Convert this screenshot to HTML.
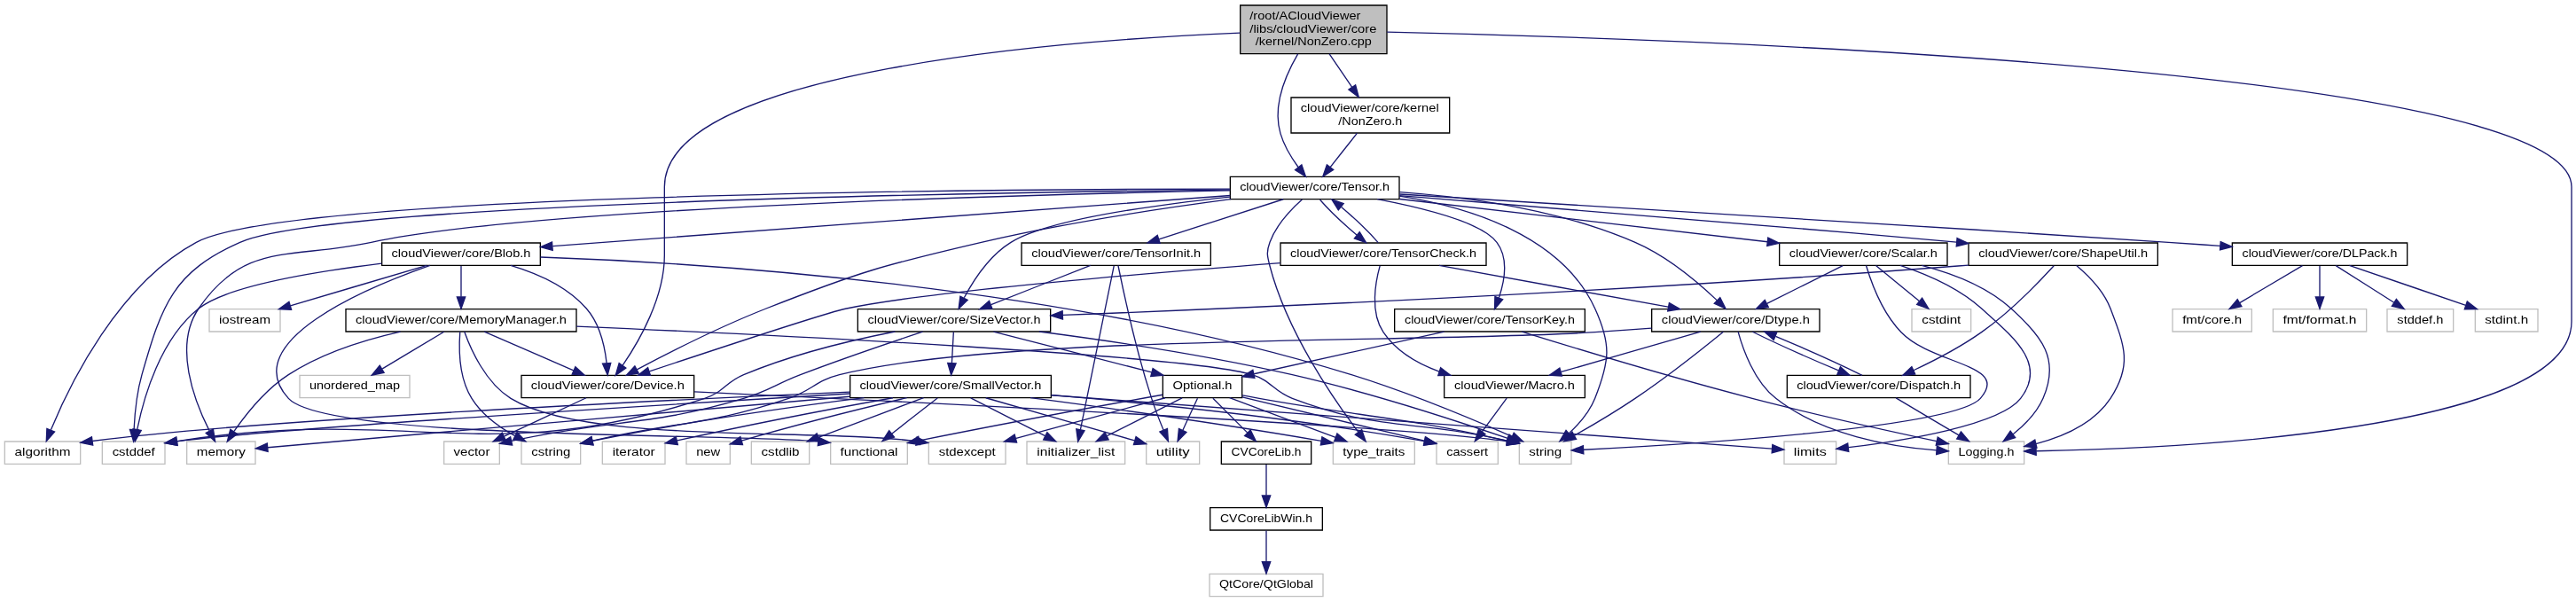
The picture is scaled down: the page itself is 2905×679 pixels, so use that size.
<!DOCTYPE html>
<html><head><meta charset="utf-8"><title>/root/ACloudViewer/libs/cloudViewer/core/kernel/NonZero.cpp</title>
<style>html,body{margin:0;padding:0;background:#fff}svg{display:block;will-change:transform}text{font-family:"Liberation Sans",sans-serif;fill:#000}</style></head><body>
<svg width="2905" height="679" viewBox="0 0 2178.75 509.25">
<rect x="0" y="0" width="2178.75" height="509.25" fill="#fff"/>
<g transform="translate(4 505)" stroke-width="1">
<polygon fill="#bfbfbf" stroke="#000" points="1045,-459.5 1045,-500.5 1169,-500.5 1169,-459.5 1045,-459.5"/>
<text x="1053" y="-488.5" font-size="10.2" textLength="93.75" lengthAdjust="spacingAndGlyphs">/root/ACloudViewer</text>
<text x="1053" y="-477.5" font-size="10.2" textLength="107.25" lengthAdjust="spacingAndGlyphs">/libs/cloudViewer/core</text>
<text x="1057.88" y="-466.5" font-size="10.2" textLength="98.25" lengthAdjust="spacingAndGlyphs">/kernel/NonZero.cpp</text>
<polygon fill="#fff" stroke="#000" points="1088,-392.5 1088,-422.5 1222,-422.5 1222,-392.5 1088,-392.5"/>
<text x="1096" y="-410.5" font-size="10.2" textLength="117" lengthAdjust="spacingAndGlyphs">cloudViewer/core/kernel</text>
<text x="1128" y="-399.5" font-size="10.2" textLength="54" lengthAdjust="spacingAndGlyphs">/NonZero.h</text>
<path fill="none" stroke="#191970" d="M1120.37,-459.36C1126.28,-450.68 1133.26,-440.42 1139.41,-431.4"/>
<polygon fill="#191970" stroke="#191970" points="1142.47,-433.13 1145.2,-422.89 1136.68,-429.19 1142.47,-433.13"/>
<polygon fill="#fff" stroke="#000" points="1036.5,-336.5 1036.5,-355.5 1179.5,-355.5 1179.5,-336.5 1036.5,-336.5"/>
<text x="1044.62" y="-343.5" font-size="10.2" textLength="126.75" lengthAdjust="spacingAndGlyphs">cloudViewer/core/Tensor.h</text>
<path fill="none" stroke="#191970" d="M1093.72,-459.39C1083.49,-441.82 1072.15,-415.29 1079,-392 1082.01,-381.76 1088.15,-371.66 1094.01,-363.63"/>
<polygon fill="#191970" stroke="#191970" points="1096.93,-365.58 1100.33,-355.54 1091.41,-361.27 1096.93,-365.58"/>
<polygon fill="#fff" stroke="#000" points="437,-168.5 437,-187.5 583,-187.5 583,-168.5 437,-168.5"/>
<text x="445.12" y="-175.5" font-size="10.2" textLength="129.75" lengthAdjust="spacingAndGlyphs">cloudViewer/core/Device.h</text>
<path fill="none" stroke="#191970" d="M1044.82,-477.11C901.09,-471.05 558,-446.19 558,-347 558,-347 558,-347 558,-289 558,-253.58 536.84,-216.71 522.62,-195.92"/>
<polygon fill="#191970" stroke="#191970" points="525.32,-193.68 516.67,-187.56 519.62,-197.74 525.32,-193.68"/>
<polygon fill="#fff" stroke="#bfbfbf" points="1644,-112.5 1644,-131.5 1708,-131.5 1708,-112.5 1644,-112.5"/>
<text x="1652.38" y="-119.5" font-size="10.2" textLength="47.25" lengthAdjust="spacingAndGlyphs">Logging.h</text>
<path fill="none" stroke="#191970" d="M1169.19,-477.87C1396.77,-472.92 2171,-448.62 2171,-347 2171,-347 2171,-347 2171,-233 2171,-140.6 1838.18,-125.77 1718.35,-123.43"/>
<polygon fill="#191970" stroke="#191970" points="1718.16,-119.92 1708.1,-123.25 1718.03,-126.92 1718.16,-119.92"/>
<path fill="none" stroke="#191970" d="M1143.86,-392.4C1137.03,-383.75 1128.26,-372.64 1121.09,-363.58"/>
<polygon fill="#191970" stroke="#191970" points="1123.78,-361.34 1114.84,-355.66 1118.29,-365.67 1123.78,-361.34"/>
<polygon fill="#fff" stroke="#bfbfbf" points="0,-112.5 0,-131.5 64,-131.5 64,-112.5 0,-112.5"/>
<text x="8.38" y="-119.5" font-size="10.2" textLength="47.25" lengthAdjust="spacingAndGlyphs">algorithm</text>
<path fill="none" stroke="#191970" d="M1036.2,-345.12C828.71,-344.97 238.25,-340.91 162,-300 95.95,-264.56 54.68,-179.17 39.08,-141.45"/>
<polygon fill="#191970" stroke="#191970" points="42.17,-139.75 35.21,-131.76 35.67,-142.35 42.17,-139.75"/>
<polygon fill="#fff" stroke="#bfbfbf" points="82.5,-112.5 82.5,-131.5 135.5,-131.5 135.5,-112.5 82.5,-112.5"/>
<text x="91" y="-119.5" font-size="10.2" textLength="36" lengthAdjust="spacingAndGlyphs">cstddef</text>
<path fill="none" stroke="#191970" d="M1036.41,-344.41C835.25,-342.33 274.65,-333.55 199,-300 142.36,-274.88 133.02,-247.57 116,-188 111.66,-172.81 109.97,-154.91 109.33,-141.75"/>
<polygon fill="#191970" stroke="#191970" points="112.82,-141.47 109,-131.59 105.83,-141.7 112.82,-141.47"/>
<polygon fill="#fff" stroke="#bfbfbf" points="154,-112.5 154,-131.5 212,-131.5 212,-112.5 154,-112.5"/>
<text x="162.38" y="-119.5" font-size="10.2" textLength="41.25" lengthAdjust="spacingAndGlyphs">memory</text>
<path fill="none" stroke="#191970" d="M1036.32,-343.79C867.25,-340.49 447.46,-329.48 310,-300 242.05,-285.42 203.37,-301.27 164,-244 142.4,-212.58 160.38,-165.82 173.09,-140.62"/>
<polygon fill="#191970" stroke="#191970" points="176.32,-142 177.92,-131.52 170.14,-138.71 176.32,-142"/>
<polygon fill="#fff" stroke="#bfbfbf" points="1281,-112.5 1281,-131.5 1325,-131.5 1325,-112.5 1281,-112.5"/>
<text x="1289.12" y="-119.5" font-size="10.2" textLength="27.75" lengthAdjust="spacingAndGlyphs">string</text>
<path fill="none" stroke="#191970" d="M1179.54,-339.14C1238.43,-329.82 1316.67,-305.8 1345,-244 1359.08,-213.29 1357.39,-199.42 1345,-168 1340.49,-156.55 1331.53,-146.29 1323.05,-138.47"/>
<polygon fill="#191970" stroke="#191970" points="1325.09,-135.61 1315.21,-131.76 1320.53,-140.93 1325.09,-135.61"/>
<polygon fill="#fff" stroke="#bfbfbf" points="1123.5,-112.5 1123.5,-131.5 1192.5,-131.5 1192.5,-112.5 1123.5,-112.5"/>
<text x="1131.75" y="-119.5" font-size="10.2" textLength="52.5" lengthAdjust="spacingAndGlyphs">type_traits</text>
<path fill="none" stroke="#191970" d="M1097.29,-336.3C1088.06,-328.07 1075.41,-314.79 1070,-300 1066.95,-291.65 1067.75,-288.6 1070,-280 1084.61,-224.05 1124.09,-166.94 1144.84,-139.59"/>
<polygon fill="#191970" stroke="#191970" points="1147.75,-141.55 1151.1,-131.5 1142.21,-137.27 1147.75,-141.55"/>
<polygon fill="#fff" stroke="#000" points="319,-280.5 319,-299.5 453,-299.5 453,-280.5 319,-280.5"/>
<text x="327.12" y="-287.5" font-size="10.2" textLength="117.75" lengthAdjust="spacingAndGlyphs">cloudViewer/core/Blob.h</text>
<path fill="none" stroke="#191970" d="M1036.46,-339.65C900.15,-329.45 604.24,-307.32 463.45,-296.79"/>
<polygon fill="#191970" stroke="#191970" points="463.41,-293.28 453.17,-296.02 462.88,-300.26 463.41,-293.28"/>
<path fill="none" stroke="#191970" d="M1037.06,-336.48C979.71,-328.93 897.11,-316.53 826,-300 743.57,-280.84 722.75,-275 644,-244 604.79,-228.56 561.19,-206.43 534.69,-192.39"/>
<polygon fill="#191970" stroke="#191970" points="536.2,-189.24 525.73,-187.61 532.91,-195.41 536.2,-189.24"/>
<polygon fill="#fff" stroke="#000" points="1884,-280.5 1884,-299.5 2032,-299.5 2032,-280.5 1884,-280.5"/>
<text x="1892.38" y="-287.5" font-size="10.2" textLength="131.25" lengthAdjust="spacingAndGlyphs">cloudViewer/core/DLPack.h</text>
<path fill="none" stroke="#191970" d="M1179.75,-340.72C1309.52,-332.93 1591.9,-315.79 1830,-300 1844.18,-299.06 1859.24,-298.03 1873.86,-297.01"/>
<polygon fill="#191970" stroke="#191970" points="1874.16,-300.5 1883.89,-296.31 1873.67,-293.52 1874.16,-300.5"/>
<polygon fill="#fff" stroke="#000" points="1393,-224.5 1393,-243.5 1535,-243.5 1535,-224.5 1393,-224.5"/>
<text x="1401.38" y="-231.5" font-size="10.2" textLength="125.25" lengthAdjust="spacingAndGlyphs">cloudViewer/core/Dtype.h</text>
<path fill="none" stroke="#191970" d="M1179.71,-342.54C1235.94,-338.42 1315.1,-327.67 1379,-300 1406,-288.31 1432.13,-266.2 1448.13,-251.04"/>
<polygon fill="#191970" stroke="#191970" points="1450.8,-253.33 1455.52,-243.84 1445.92,-248.31 1450.8,-253.33"/>
<polygon fill="#fff" stroke="#000" points="1501,-280.5 1501,-299.5 1643,-299.5 1643,-280.5 1501,-280.5"/>
<text x="1509.38" y="-287.5" font-size="10.2" textLength="125.25" lengthAdjust="spacingAndGlyphs">cloudViewer/core/Scalar.h</text>
<path fill="none" stroke="#191970" d="M1179.74,-336.65C1263.87,-326.86 1403,-310.67 1490.96,-300.43"/>
<polygon fill="#191970" stroke="#191970" points="1491.37,-303.91 1500.9,-299.27 1490.56,-296.95 1491.37,-303.91"/>
<polygon fill="#fff" stroke="#000" points="1661,-280.5 1661,-299.5 1821,-299.5 1821,-280.5 1661,-280.5"/>
<text x="1669.38" y="-287.5" font-size="10.2" textLength="143.25" lengthAdjust="spacingAndGlyphs">cloudViewer/core/ShapeUtil.h</text>
<path fill="none" stroke="#191970" d="M1179.76,-339.48C1281.88,-331.54 1475.3,-316.15 1650.76,-300.1"/>
<polygon fill="#191970" stroke="#191970" points="1651.31,-303.56 1660.95,-299.16 1650.68,-296.59 1651.31,-303.56"/>
<polygon fill="#fff" stroke="#000" points="721.5,-224.5 721.5,-243.5 884.5,-243.5 884.5,-224.5 721.5,-224.5"/>
<text x="729.88" y="-231.5" font-size="10.2" textLength="146.25" lengthAdjust="spacingAndGlyphs">cloudViewer/core/SizeVector.h</text>
<path fill="none" stroke="#191970" d="M1036.3,-338.44C971.34,-331.43 881.29,-318.74 851,-300 832.97,-288.85 819.5,-268.21 811.49,-253.17"/>
<polygon fill="#191970" stroke="#191970" points="814.43,-251.22 806.83,-243.84 808.17,-254.35 814.43,-251.22"/>
<polygon fill="#fff" stroke="#000" points="1079,-280.5 1079,-299.5 1253,-299.5 1253,-280.5 1079,-280.5"/>
<text x="1087.25" y="-287.5" font-size="10.2" textLength="157.5" lengthAdjust="spacingAndGlyphs">cloudViewer/core/TensorCheck.h</text>
<path fill="none" stroke="#191970" d="M1112.41,-336.08C1119.4,-327.98 1132.09,-315.87 1143.49,-306.23"/>
<polygon fill="#191970" stroke="#191970" points="1145.92,-308.77 1151.47,-299.75 1141.5,-303.34 1145.92,-308.77"/>
<polygon fill="#fff" stroke="#000" points="860,-280.5 860,-299.5 1020,-299.5 1020,-280.5 860,-280.5"/>
<text x="868.38" y="-287.5" font-size="10.2" textLength="143.25" lengthAdjust="spacingAndGlyphs">cloudViewer/core/TensorInit.h</text>
<path fill="none" stroke="#191970" d="M1081.38,-336.44C1052.99,-327.32 1007.86,-312.81 976.25,-302.65"/>
<polygon fill="#191970" stroke="#191970" points="977.09,-299.24 966.5,-299.52 974.94,-305.91 977.09,-299.24"/>
<polygon fill="#fff" stroke="#000" points="1175.5,-224.5 1175.5,-243.5 1336.5,-243.5 1336.5,-224.5 1175.5,-224.5"/>
<text x="1184" y="-231.5" font-size="10.2" textLength="144" lengthAdjust="spacingAndGlyphs">cloudViewer/core/TensorKey.h</text>
<path fill="none" stroke="#191970" d="M1160.9,-336.46C1200.43,-328.87 1249.68,-316.44 1262,-300 1271.97,-286.7 1268.55,-267.32 1263.81,-253.18"/>
<polygon fill="#191970" stroke="#191970" points="1266.97,-251.66 1260.12,-243.57 1260.44,-254.16 1266.97,-251.66"/>
<path fill="none" stroke="#191970" d="M318.81,-282.14C262.48,-275.19 187.58,-262.76 164,-244 131.45,-218.1 117.47,-168.69 112.05,-141.71"/>
<polygon fill="#191970" stroke="#191970" points="115.45,-140.87 110.22,-131.66 108.57,-142.12 115.45,-140.87"/>
<path fill="none" stroke="#191970" d="M453.07,-287.47C586.6,-282.8 893.96,-263.96 1139,-188 1187.78,-172.88 1242.59,-149.88 1274.89,-135.68"/>
<polygon fill="#191970" stroke="#191970" points="1276.43,-138.82 1284.15,-131.57 1273.59,-132.42 1276.43,-138.82"/>
<polygon fill="#fff" stroke="#bfbfbf" points="698.5,-112.5 698.5,-131.5 763.5,-131.5 763.5,-112.5 698.5,-112.5"/>
<text x="706.62" y="-119.5" font-size="10.2" textLength="48.75" lengthAdjust="spacingAndGlyphs">functional</text>
<path fill="none" stroke="#191970" d="M359.7,-280.42C306.74,-261.85 195.9,-215.78 240,-168 272.36,-132.95 605.94,-138.6 687.86,-131.61"/>
<polygon fill="#191970" stroke="#191970" points="688.51,-135.07 698.06,-130.49 687.73,-128.11 688.51,-135.07"/>
<polygon fill="#fff" stroke="#bfbfbf" points="173,-224.5 173,-243.5 233,-243.5 233,-224.5 173,-224.5"/>
<text x="181.25" y="-231.5" font-size="10.2" textLength="43.5" lengthAdjust="spacingAndGlyphs">iostream</text>
<path fill="none" stroke="#191970" d="M357,-280.44C325.82,-271.24 276.07,-256.56 241.59,-246.39"/>
<polygon fill="#191970" stroke="#191970" points="242.44,-242.99 231.86,-243.52 240.46,-249.7 242.44,-242.99"/>
<path fill="none" stroke="#191970" d="M427.92,-280.47C449.87,-273.96 475.53,-262.79 492,-244 503.21,-231.22 507.49,-212.03 509.1,-197.81"/>
<polygon fill="#191970" stroke="#191970" points="512.6,-197.93 509.9,-187.69 505.62,-197.38 512.6,-197.93"/>
<polygon fill="#fff" stroke="#000" points="288.5,-224.5 288.5,-243.5 483.5,-243.5 483.5,-224.5 288.5,-224.5"/>
<text x="296.75" y="-231.5" font-size="10.2" textLength="178.5" lengthAdjust="spacingAndGlyphs">cloudViewer/core/MemoryManager.h</text>
<path fill="none" stroke="#191970" d="M386,-280.08C386,-273.01 386,-262.86 386,-253.99"/>
<polygon fill="#191970" stroke="#191970" points="389.5,-253.75 386,-243.75 382.5,-253.75 389.5,-253.75"/>
<path fill="none" stroke="#191970" d="M583.3,-173.61C754.47,-165.55 1172.79,-145.08 1270.9,-131.62"/>
<polygon fill="#191970" stroke="#191970" points="1271.44,-135.08 1280.79,-130.09 1270.37,-128.16 1271.44,-135.08"/>
<polygon fill="#fff" stroke="#bfbfbf" points="371.5,-112.5 371.5,-131.5 418.5,-131.5 418.5,-112.5 371.5,-112.5"/>
<text x="379.62" y="-119.5" font-size="10.2" textLength="30.75" lengthAdjust="spacingAndGlyphs">vector</text>
<path fill="none" stroke="#191970" d="M491.78,-168.44C473.1,-159.68 443.84,-145.94 422.38,-135.86"/>
<polygon fill="#191970" stroke="#191970" points="423.68,-132.6 413.14,-131.52 420.7,-138.93 423.68,-132.6"/>
<path fill="none" stroke="#191970" d="M334.71,-224.42C305.28,-217.8 268.6,-206.53 240,-188 220.78,-175.55 204.22,-154.85 193.98,-140.16"/>
<polygon fill="#191970" stroke="#191970" points="196.67,-137.88 188.2,-131.52 190.85,-141.77 196.67,-137.88"/>
<path fill="none" stroke="#191970" d="M483.55,-228.93C656.08,-221.35 1001.92,-204.39 1055,-188 1071.75,-182.83 1072.61,-174.22 1089,-168 1163.46,-139.72 1189.42,-150.62 1270.54,-132.13"/>
<polygon fill="#191970" stroke="#191970" points="1271.79,-135.43 1280.71,-129.73 1270.18,-128.62 1271.79,-135.43"/>
<path fill="none" stroke="#191970" d="M405.65,-224.44C425.96,-215.6 457.9,-201.69 481.1,-191.59"/>
<polygon fill="#191970" stroke="#191970" points="482.67,-194.72 490.44,-187.52 479.88,-188.3 482.67,-194.72"/>
<polygon fill="#fff" stroke="#bfbfbf" points="437,-112.5 437,-131.5 487,-131.5 487,-112.5 437,-112.5"/>
<text x="445.5" y="-119.5" font-size="10.2" textLength="33" lengthAdjust="spacingAndGlyphs">cstring</text>
<path fill="none" stroke="#191970" d="M385.07,-224.25C384.1,-211.02 384.01,-185.58 395,-168 403.63,-154.19 418.22,-143.65 431.6,-136.25"/>
<polygon fill="#191970" stroke="#191970" points="433.28,-139.32 440.57,-131.63 430.08,-133.1 433.28,-139.32"/>
<polygon fill="#fff" stroke="#bfbfbf" points="781.5,-112.5 781.5,-131.5 846.5,-131.5 846.5,-112.5 781.5,-112.5"/>
<text x="790" y="-119.5" font-size="10.2" textLength="48" lengthAdjust="spacingAndGlyphs">stdexcept</text>
<path fill="none" stroke="#191970" d="M388.76,-224.48C393.91,-210.08 406.48,-181.22 428,-168 491.07,-129.27 681.24,-142.94 771.12,-131.81"/>
<polygon fill="#191970" stroke="#191970" points="771.63,-135.27 781.05,-130.41 770.66,-128.34 771.63,-135.27"/>
<polygon fill="#fff" stroke="#bfbfbf" points="249.5,-168.5 249.5,-187.5 342.5,-187.5 342.5,-168.5 249.5,-168.5"/>
<text x="257.75" y="-175.5" font-size="10.2" textLength="76.5" lengthAdjust="spacingAndGlyphs">unordered_map</text>
<path fill="none" stroke="#191970" d="M371.54,-224.32C357.5,-215.9 335.95,-202.97 319.46,-193.07"/>
<polygon fill="#191970" stroke="#191970" points="320.8,-189.8 310.42,-187.65 317.2,-195.8 320.8,-189.8"/>
<polygon fill="#fff" stroke="#bfbfbf" points="2015,-224.5 2015,-243.5 2071,-243.5 2071,-224.5 2015,-224.5"/>
<text x="2023.5" y="-231.5" font-size="10.2" textLength="39" lengthAdjust="spacingAndGlyphs">stddef.h</text>
<path fill="none" stroke="#191970" d="M1971.66,-280.32C1984.92,-271.9 2005.27,-258.97 2020.85,-249.07"/>
<polygon fill="#191970" stroke="#191970" points="2022.81,-251.97 2029.38,-243.65 2019.06,-246.06 2022.81,-251.97"/>
<polygon fill="#fff" stroke="#bfbfbf" points="2089.5,-224.5 2089.5,-243.5 2142.5,-243.5 2142.5,-224.5 2089.5,-224.5"/>
<text x="2097.62" y="-231.5" font-size="10.2" textLength="36.75" lengthAdjust="spacingAndGlyphs">stdint.h</text>
<path fill="none" stroke="#191970" d="M1983.04,-280.44C2009.62,-271.36 2051.81,-256.94 2081.52,-246.78"/>
<polygon fill="#191970" stroke="#191970" points="2082.75,-250.06 2091.08,-243.52 2080.49,-243.44 2082.75,-250.06"/>
<polygon fill="#fff" stroke="#bfbfbf" points="1833.5,-224.5 1833.5,-243.5 1900.5,-243.5 1900.5,-224.5 1833.5,-224.5"/>
<text x="1841.88" y="-231.5" font-size="10.2" textLength="50.25" lengthAdjust="spacingAndGlyphs">fmt/core.h</text>
<path fill="none" stroke="#191970" d="M1943.38,-280.32C1929.05,-271.82 1906.99,-258.73 1890.25,-248.8"/>
<polygon fill="#191970" stroke="#191970" points="1891.97,-245.75 1881.58,-243.65 1888.4,-251.77 1891.97,-245.75"/>
<polygon fill="#fff" stroke="#bfbfbf" points="1918.5,-224.5 1918.5,-243.5 1997.5,-243.5 1997.5,-224.5 1918.5,-224.5"/>
<text x="1926.88" y="-231.5" font-size="10.2" textLength="62.25" lengthAdjust="spacingAndGlyphs">fmt/format.h</text>
<path fill="none" stroke="#191970" d="M1958,-280.08C1958,-273.01 1958,-262.86 1958,-253.99"/>
<polygon fill="#191970" stroke="#191970" points="1961.5,-253.75 1958,-243.75 1954.5,-253.75 1961.5,-253.75"/>
<path fill="none" stroke="#191970" d="M1453.56,-224.38C1437.82,-211.52 1406.87,-186.81 1379,-168 1362.26,-156.7 1342.64,-145.12 1327.52,-136.54"/>
<polygon fill="#191970" stroke="#191970" points="1329.19,-133.46 1318.76,-131.61 1325.76,-139.56 1329.19,-133.46"/>
<path fill="none" stroke="#191970" d="M1392.91,-227.4C1377.14,-226.22 1360.51,-225.02 1345,-224 1203.08,-214.64 843.95,-222.61 706,-188 685.56,-182.87 682.98,-174.71 663,-168 593.97,-144.83 571.65,-149.29 497.08,-132.14"/>
<polygon fill="#191970" stroke="#191970" points="497.75,-128.7 487.22,-129.81 496.15,-135.51 497.75,-128.7"/>
<polygon fill="#fff" stroke="#000" points="1507.5,-168.5 1507.5,-187.5 1662.5,-187.5 1662.5,-168.5 1507.5,-168.5"/>
<text x="1515.62" y="-175.5" font-size="10.2" textLength="138.75" lengthAdjust="spacingAndGlyphs">cloudViewer/core/Dispatch.h</text>
<path fill="none" stroke="#191970" d="M1478.33,-224.32C1496.25,-215.47 1527.03,-201.63 1551.02,-191.57"/>
<polygon fill="#191970" stroke="#191970" points="1552.59,-194.71 1560.5,-187.65 1549.92,-188.24 1552.59,-194.71"/>
<path fill="none" stroke="#191970" d="M1466.07,-224.37C1469.88,-210.34 1479.41,-182.68 1498,-168 1537.16,-137.09 1594.97,-127.15 1633.99,-124.1"/>
<polygon fill="#191970" stroke="#191970" points="1634.23,-127.59 1643.97,-123.44 1633.76,-120.61 1634.23,-127.59"/>
<polygon fill="#fff" stroke="#000" points="1217.5,-168.5 1217.5,-187.5 1336.5,-187.5 1336.5,-168.5 1217.5,-168.5"/>
<text x="1226" y="-175.5" font-size="10.2" textLength="102" lengthAdjust="spacingAndGlyphs">cloudViewer/Macro.h</text>
<path fill="none" stroke="#191970" d="M1434.37,-224.44C1402.5,-215.24 1351.67,-200.56 1316.44,-190.39"/>
<polygon fill="#191970" stroke="#191970" points="1317.07,-186.93 1306.49,-187.52 1315.13,-193.65 1317.07,-186.93"/>
<path fill="none" stroke="#191970" d="M1571,-187.52C1553.07,-196.39 1521.96,-210.38 1497.8,-220.5"/>
<polygon fill="#191970" stroke="#191970" points="1496.17,-217.39 1488.26,-224.44 1498.84,-223.86 1496.17,-217.39"/>
<path fill="none" stroke="#191970" d="M1599.62,-168.32C1613.95,-159.82 1636.01,-146.73 1652.75,-136.8"/>
<polygon fill="#191970" stroke="#191970" points="1654.6,-139.77 1661.42,-131.65 1651.03,-133.75 1654.6,-139.77"/>
<polygon fill="#fff" stroke="#bfbfbf" points="1211,-112.5 1211,-131.5 1263,-131.5 1263,-112.5 1211,-112.5"/>
<text x="1219.38" y="-119.5" font-size="10.2" textLength="35.25" lengthAdjust="spacingAndGlyphs">cassert</text>
<path fill="none" stroke="#191970" d="M1270.39,-168.08C1264.74,-160.46 1256.46,-149.26 1249.55,-139.94"/>
<polygon fill="#191970" stroke="#191970" points="1252.25,-137.7 1243.48,-131.75 1246.62,-141.87 1252.25,-137.7"/>
<path fill="none" stroke="#191970" d="M1574.36,-280.42C1578.43,-266.95 1587.93,-240.65 1604,-224 1630.95,-196.07 1696.72,-197.06 1671,-168 1648.88,-143.01 1421.11,-128.98 1335.39,-124.55"/>
<polygon fill="#191970" stroke="#191970" points="1335.36,-121.04 1325.19,-124.03 1335,-128.03 1335.36,-121.04"/>
<path fill="none" stroke="#191970" d="M1554.65,-280.32C1537.33,-271.66 1510.48,-258.24 1490.5,-248.25"/>
<polygon fill="#191970" stroke="#191970" points="1491.82,-245 1481.31,-243.65 1488.69,-251.26 1491.82,-245"/>
<path fill="none" stroke="#191970" d="M1621.4,-280.48C1646.49,-274.03 1676.01,-262.92 1697,-244 1723.63,-220 1738.25,-200.89 1724,-168 1718.73,-155.84 1708.38,-145.46 1698.64,-137.74"/>
<polygon fill="#191970" stroke="#191970" points="1700.5,-134.77 1690.37,-131.67 1696.36,-140.41 1700.5,-134.77"/>
<polygon fill="#fff" stroke="#bfbfbf" points="1613,-224.5 1613,-243.5 1663,-243.5 1663,-224.5 1613,-224.5"/>
<text x="1621.5" y="-231.5" font-size="10.2" textLength="33" lengthAdjust="spacingAndGlyphs">cstdint</text>
<path fill="none" stroke="#191970" d="M1582.6,-280.32C1592.46,-272.26 1607.35,-260.08 1619.22,-250.37"/>
<polygon fill="#191970" stroke="#191970" points="1621.68,-252.88 1627.2,-243.83 1617.25,-247.46 1621.68,-252.88"/>
<polygon fill="#fff" stroke="#bfbfbf" points="1505,-112.5 1505,-131.5 1549,-131.5 1549,-112.5 1505,-112.5"/>
<text x="1513.12" y="-119.5" font-size="10.2" textLength="27.75" lengthAdjust="spacingAndGlyphs">limits</text>
<path fill="none" stroke="#191970" d="M1603.22,-280.46C1624.5,-273.41 1652.29,-261.66 1672,-244 1699.43,-219.43 1727.62,-197.06 1705,-168 1687.29,-145.25 1605.72,-132.18 1559.39,-126.47"/>
<polygon fill="#191970" stroke="#191970" points="1559.59,-122.97 1549.25,-125.27 1558.77,-129.92 1559.59,-122.97"/>
<path fill="none" stroke="#191970" d="M1733.16,-280.19C1721,-266.86 1696.44,-241.32 1672,-224 1653.97,-211.23 1631.83,-199.83 1614.4,-191.7"/>
<polygon fill="#191970" stroke="#191970" points="1615.8,-188.49 1605.25,-187.53 1612.9,-194.86 1615.8,-188.49"/>
<path fill="none" stroke="#191970" d="M1752.27,-280.43C1761.97,-272.27 1775.28,-259.05 1781,-244 1793,-212.43 1799.59,-196.2 1781,-168 1767.02,-146.8 1740.75,-135.55 1717.99,-129.6"/>
<polygon fill="#191970" stroke="#191970" points="1718.7,-126.17 1708.17,-127.29 1717.1,-132.98 1718.7,-126.17"/>
<path fill="none" stroke="#191970" d="M1660.96,-280.72C1657.94,-280.47 1654.94,-280.23 1652,-280 1376.77,-258.8 1050.57,-244.56 894.76,-238.42"/>
<polygon fill="#191970" stroke="#191970" points="894.87,-234.93 884.75,-238.03 894.6,-241.92 894.87,-234.93"/>
<path fill="none" stroke="#191970" d="M753,-224.49C716.6,-217.32 666.61,-205.41 625,-188 609.18,-181.38 608.32,-173.27 592,-168 405.5,-107.72 343.73,-162.4 145.78,-131.8"/>
<polygon fill="#191970" stroke="#191970" points="146.06,-128.3 135.63,-130.18 144.96,-135.21 146.06,-128.3"/>
<path fill="none" stroke="#191970" d="M874.93,-224.5C933.09,-216.95 1016.86,-204.55 1089,-188 1154.73,-172.92 1229.77,-148.39 1271.24,-134.16"/>
<polygon fill="#191970" stroke="#191970" points="1272.47,-137.44 1280.78,-130.87 1270.19,-130.82 1272.47,-137.44"/>
<path fill="none" stroke="#191970" d="M776.44,-224.34C750.04,-215.6 708.49,-201.52 673,-188 651.4,-179.77 647.16,-174.56 625,-168 542.65,-143.63 516.61,-151.14 428.61,-131.94"/>
<polygon fill="#191970" stroke="#191970" points="429.25,-128.5 418.73,-129.73 427.73,-135.33 429.25,-128.5"/>
<polygon fill="#fff" stroke="#000" points="715,-168.5 715,-187.5 885,-187.5 885,-168.5 715,-168.5"/>
<text x="723.12" y="-175.5" font-size="10.2" textLength="153.75" lengthAdjust="spacingAndGlyphs">cloudViewer/core/SmallVector.h</text>
<path fill="none" stroke="#191970" d="M802.5,-224.08C802.11,-217.01 801.55,-206.86 801.05,-197.99"/>
<polygon fill="#191970" stroke="#191970" points="804.54,-197.54 800.49,-187.75 797.55,-197.93 804.54,-197.54"/>
<polygon fill="#fff" stroke="#000" points="979.5,-168.5 979.5,-187.5 1046.5,-187.5 1046.5,-168.5 979.5,-168.5"/>
<text x="987.88" y="-175.5" font-size="10.2" textLength="50.25" lengthAdjust="spacingAndGlyphs">Optional.h</text>
<path fill="none" stroke="#191970" d="M836.28,-224.44C872.45,-215.14 930.38,-200.25 969.98,-190.06"/>
<polygon fill="#191970" stroke="#191970" points="971.07,-193.4 979.88,-187.52 969.32,-186.62 971.07,-193.4"/>
<path fill="none" stroke="#191970" d="M714.74,-173.38C554.27,-166.29 211.89,-149.84 74.1,-131.9"/>
<polygon fill="#191970" stroke="#191970" points="74.52,-128.42 64.14,-130.55 73.58,-135.36 74.52,-128.42"/>
<path fill="none" stroke="#191970" d="M714.87,-171.99C557.53,-162.62 230.26,-142.53 145.71,-131.65"/>
<polygon fill="#191970" stroke="#191970" points="146.02,-128.16 135.63,-130.21 145.03,-135.09 146.02,-128.16"/>
<path fill="none" stroke="#191970" d="M714.86,-169.55C579.62,-157.71 320.95,-135.07 222.43,-126.45"/>
<polygon fill="#191970" stroke="#191970" points="222.58,-122.95 212.31,-125.57 221.97,-129.92 222.58,-122.95"/>
<path fill="none" stroke="#191970" d="M867.56,-168.5C929.03,-160.49 1022.5,-147.65 1113.51,-131.99"/>
<polygon fill="#191970" stroke="#191970" points="1114.19,-135.43 1123.45,-130.27 1113,-128.53 1114.19,-135.43"/>
<path fill="none" stroke="#191970" d="M788.91,-168.32C778.51,-160.18 762.74,-147.84 750.28,-138.09"/>
<polygon fill="#191970" stroke="#191970" points="752.32,-135.24 742.29,-131.83 748.01,-140.75 752.32,-135.24"/>
<path fill="none" stroke="#191970" d="M726.81,-168.5C667.34,-161.05 581.13,-149.05 497.14,-132.04"/>
<polygon fill="#191970" stroke="#191970" points="497.68,-128.58 487.18,-130 496.27,-135.44 497.68,-128.58"/>
<path fill="none" stroke="#191970" d="M885.35,-170.74C964.55,-164.17 1085.83,-152.19 1200.71,-131.8"/>
<polygon fill="#191970" stroke="#191970" points="1201.52,-135.21 1210.74,-129.99 1200.28,-128.32 1201.52,-135.21"/>
<path fill="none" stroke="#191970" d="M885.18,-170.67C1046.13,-158.72 1388.34,-133.3 1494.74,-125.4"/>
<polygon fill="#191970" stroke="#191970" points="1495.14,-128.88 1504.85,-124.65 1494.62,-121.9 1495.14,-128.88"/>
<polygon fill="#fff" stroke="#bfbfbf" points="631.5,-112.5 631.5,-131.5 680.5,-131.5 680.5,-112.5 631.5,-112.5"/>
<text x="639.88" y="-119.5" font-size="10.2" textLength="32.25" lengthAdjust="spacingAndGlyphs">cstdlib</text>
<path fill="none" stroke="#191970" d="M777.18,-168.44C753.17,-159.44 715.17,-145.19 688.13,-135.05"/>
<polygon fill="#191970" stroke="#191970" points="689.3,-131.75 678.71,-131.52 686.84,-138.3 689.3,-131.75"/>
<polygon fill="#fff" stroke="#bfbfbf" points="864.5,-112.5 864.5,-131.5 947.5,-131.5 947.5,-112.5 864.5,-112.5"/>
<text x="873" y="-119.5" font-size="10.2" textLength="66" lengthAdjust="spacingAndGlyphs">initializer_list</text>
<path fill="none" stroke="#191970" d="M817.03,-168.32C834.03,-159.66 860.38,-146.24 879.99,-136.25"/>
<polygon fill="#191970" stroke="#191970" points="881.69,-139.31 889.01,-131.65 878.51,-133.08 881.69,-139.31"/>
<polygon fill="#fff" stroke="#bfbfbf" points="505.5,-112.5 505.5,-131.5 558.5,-131.5 558.5,-112.5 505.5,-112.5"/>
<text x="514" y="-119.5" font-size="10.2" textLength="36" lengthAdjust="spacingAndGlyphs">iterator</text>
<path fill="none" stroke="#191970" d="M751.18,-168.46C706.13,-160.39 637.15,-147.52 568.79,-132.31"/>
<polygon fill="#191970" stroke="#191970" points="569.24,-128.82 558.71,-130.05 567.7,-135.65 569.24,-128.82"/>
<polygon fill="#fff" stroke="#bfbfbf" points="576.5,-112.5 576.5,-131.5 613.5,-131.5 613.5,-112.5 576.5,-112.5"/>
<text x="584.88" y="-119.5" font-size="10.2" textLength="20.25" lengthAdjust="spacingAndGlyphs">new</text>
<path fill="none" stroke="#191970" d="M762.97,-168.48C728.86,-160.45 676.67,-147.69 623.18,-132.2"/>
<polygon fill="#191970" stroke="#191970" points="624.11,-128.83 613.53,-129.38 622.15,-135.54 624.11,-128.83"/>
<polygon fill="#fff" stroke="#bfbfbf" points="965.5,-112.5 965.5,-131.5 1010.5,-131.5 1010.5,-112.5 965.5,-112.5"/>
<text x="973.75" y="-119.5" font-size="10.2" textLength="28.5" lengthAdjust="spacingAndGlyphs">utility</text>
<path fill="none" stroke="#191970" d="M829.79,-168.44C864.09,-158.59 920.24,-142.46 955.61,-132.3"/>
<polygon fill="#191970" stroke="#191970" points="956.79,-135.61 965.43,-129.48 954.85,-128.88 956.79,-135.61"/>
<path fill="none" stroke="#191970" d="M1046.56,-170.64C1051.4,-169.74 1056.33,-168.84 1061,-168 1151.53,-151.79 1177.57,-153.18 1270.87,-132.05"/>
<polygon fill="#191970" stroke="#191970" points="1271.76,-135.44 1280.73,-129.79 1270.2,-128.62 1271.76,-135.44"/>
<path fill="none" stroke="#191970" d="M1035.98,-168.44C1060.16,-159.44 1098.42,-145.19 1125.65,-135.05"/>
<polygon fill="#191970" stroke="#191970" points="1126.98,-138.29 1135.13,-131.52 1124.54,-131.73 1126.98,-138.29"/>
<path fill="none" stroke="#191970" d="M979.41,-171.07C934.69,-163.11 852.89,-148.27 773.79,-132.32"/>
<polygon fill="#191970" stroke="#191970" points="774.15,-128.82 763.65,-130.27 772.76,-135.68 774.15,-128.82"/>
<path fill="none" stroke="#191970" d="M981.47,-168.44C947.41,-159.2 892.99,-144.44 855.48,-134.26"/>
<polygon fill="#191970" stroke="#191970" points="855.95,-130.76 845.38,-131.52 854.12,-137.51 855.95,-130.76"/>
<path fill="none" stroke="#191970" d="M1046.65,-169.05C1082.3,-160.61 1140.5,-146.76 1200.61,-132.08"/>
<polygon fill="#191970" stroke="#191970" points="1201.78,-135.39 1210.66,-129.62 1200.12,-128.59 1201.78,-135.39"/>
<path fill="none" stroke="#191970" d="M995.81,-168.32C978.65,-159.66 952.05,-146.24 932.25,-136.25"/>
<polygon fill="#191970" stroke="#191970" points="933.65,-133.04 923.15,-131.65 930.5,-139.28 933.65,-133.04"/>
<path fill="none" stroke="#191970" d="M1008.87,-168.08C1005.49,-160.77 1000.58,-150.18 996.38,-141.1"/>
<polygon fill="#191970" stroke="#191970" points="999.43,-139.36 992.05,-131.75 993.08,-142.3 999.43,-139.36"/>
<polygon fill="#fff" stroke="#000" points="1029,-112.5 1029,-131.5 1105,-131.5 1105,-112.5 1029,-112.5"/>
<text x="1037.38" y="-119.5" font-size="10.2" textLength="59.25" lengthAdjust="spacingAndGlyphs">CVCoreLib.h</text>
<path fill="none" stroke="#191970" d="M1021.92,-168.08C1029.78,-160.22 1041.43,-148.57 1050.92,-139.08"/>
<polygon fill="#191970" stroke="#191970" points="1053.65,-141.3 1058.25,-131.75 1048.7,-136.35 1053.65,-141.3"/>
<polygon fill="#fff" stroke="#000" points="1019.5,-56.5 1019.5,-75.5 1114.5,-75.5 1114.5,-56.5 1019.5,-56.5"/>
<text x="1028" y="-63.5" font-size="10.2" textLength="78" lengthAdjust="spacingAndGlyphs">CVCoreLibWin.h</text>
<path fill="none" stroke="#191970" d="M1067,-112.08C1067,-105.01 1067,-94.86 1067,-85.99"/>
<polygon fill="#191970" stroke="#191970" points="1070.5,-85.75 1067,-75.75 1063.5,-85.75 1070.5,-85.75"/>
<polygon fill="#fff" stroke="#bfbfbf" points="1019,-0.5 1019,-19.5 1115,-19.5 1115,-0.5 1019,-0.5"/>
<text x="1027.25" y="-7.5" font-size="10.2" textLength="79.5" lengthAdjust="spacingAndGlyphs">QtCore/QtGlobal</text>
<path fill="none" stroke="#191970" d="M1067,-56.08C1067,-49.01 1067,-38.86 1067,-29.99"/>
<polygon fill="#191970" stroke="#191970" points="1070.5,-29.75 1067,-19.75 1063.5,-29.75 1070.5,-29.75"/>
<path fill="none" stroke="#191970" d="M1161.66,-299.83C1154.67,-307.95 1141.9,-320.15 1130.44,-329.82"/>
<polygon fill="#191970" stroke="#191970" points="1127.99,-327.3 1122.43,-336.32 1132.4,-332.74 1127.99,-327.3"/>
<path fill="none" stroke="#191970" d="M1078.79,-282.57C967.09,-273.96 779.85,-258.11 712,-244 695.44,-240.56 598.67,-208.6 545.3,-190.81"/>
<polygon fill="#191970" stroke="#191970" points="546.15,-187.41 535.56,-187.56 543.94,-194.05 546.15,-187.41"/>
<path fill="none" stroke="#191970" d="M1213.22,-280.44C1265.75,-270.92 1350.61,-255.55 1406.85,-245.36"/>
<polygon fill="#191970" stroke="#191970" points="1407.79,-248.74 1417,-243.52 1406.54,-241.86 1407.79,-248.74"/>
<path fill="none" stroke="#191970" d="M1163.12,-280.12C1159.37,-266.7 1154.53,-241.03 1166,-224 1176.98,-207.7 1194.99,-197.3 1213.33,-190.67"/>
<polygon fill="#191970" stroke="#191970" points="1214.5,-193.97 1222.92,-187.53 1212.33,-187.31 1214.5,-193.97"/>
<path fill="none" stroke="#191970" d="M918.29,-280.44C895.65,-271.52 859.93,-257.44 834.25,-247.32"/>
<polygon fill="#191970" stroke="#191970" points="835.19,-243.93 824.61,-243.52 832.63,-250.44 835.19,-243.93"/>
<path fill="none" stroke="#191970" d="M938.17,-280.08C932.82,-253.95 917.1,-177.21 909.8,-141.58"/>
<polygon fill="#191970" stroke="#191970" points="913.19,-140.66 907.75,-131.57 906.33,-142.07 913.19,-140.66"/>
<path fill="none" stroke="#191970" d="M941.71,-280.38C945.77,-260.38 956.66,-209.41 970,-168 972.9,-158.99 976.73,-149.21 980.11,-141.07"/>
<polygon fill="#191970" stroke="#191970" points="983.35,-142.4 984.05,-131.83 976.91,-139.66 983.35,-142.4"/>
<path fill="none" stroke="#191970" d="M1283.19,-224.45C1324.9,-211.48 1407.26,-186.38 1478,-168 1531.51,-154.1 1593.78,-140.34 1633.98,-131.77"/>
<polygon fill="#191970" stroke="#191970" points="1634.91,-135.15 1643.96,-129.65 1633.45,-128.3 1634.91,-135.15"/>
<path fill="none" stroke="#191970" d="M1217.5,-224.44C1173.7,-214.71 1102.35,-198.86 1056.56,-188.68"/>
<polygon fill="#191970" stroke="#191970" points="1057.15,-185.23 1046.63,-186.47 1055.63,-192.06 1057.15,-185.23"/>
</g></svg></body></html>
